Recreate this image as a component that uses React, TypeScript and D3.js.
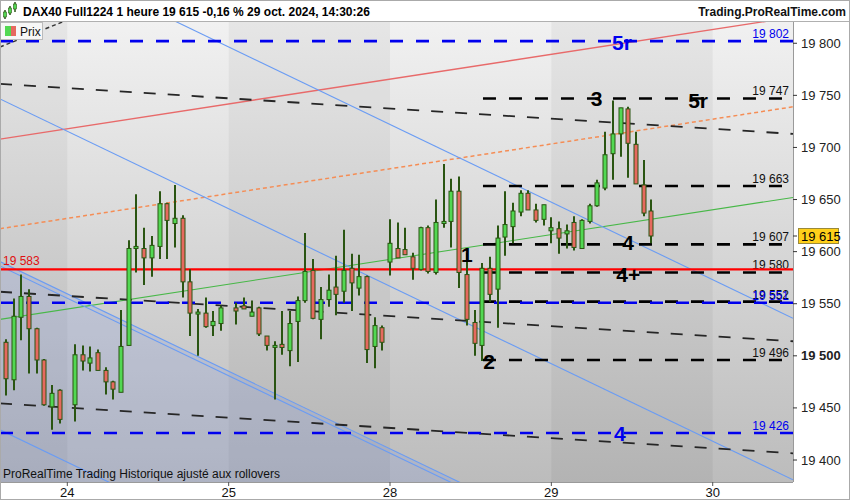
import { useEffect, useRef } from "react";
import * as d3 from "d3";

const WIDTH = 850;
const HEIGHT = 500;
const PLOT = { left: 0, right: 793, top: 22, bottom: 482 };
const FONT = "'Liberation Sans', Arial, sans-serif";

// hourly bars, one slot per hour, the first slot of each day label is at 21 * n
const FIRST_SLOT = -8;
const BARS_PER_DAY = 21;
const SLOT_DOMAIN = [-8.76, 94.45];
const PRICE_DOMAIN = [19378.9, 19820.4];
const dayLabels = ["24", "25", "28", "29", "30"];

// null = no bar in that slot
const opens = [
  19513, 19477, 19537, 19557, 19526, 19496, 19451, 19467,
  null, 19453, 19501, 19493, 19503, 19486, 19475, 19465, 19510, 19603, 19603, 19594, 19605, 19646, 19627, 19632, 19571, 19541, 19541, 19529, 19531,
  null, 19546, 19548, 19538, 19546, 19519, 19509, 19511, 19505, 19533, 19553, 19582, 19535, 19554, 19566, 19562, 19584, 19565, 19576, 19509, 19527,
  19590, 19603, 19602, 19595, 19583, 19623, 19580, 19627, 19629, 19658, 19578, 19532, 19510, 19584, 19564, 19614, 19624, 19638, 19656, 19640, 19631,
  19620, 19622, 19617, 19628, 19603, 19629, 19644, 19661, 19694, 19713, 19737, 19703, 19664, 19639,
];
const highs = [
  19516, 19555, 19578, 19564, 19527, 19497, 19472, 19468,
  null, 19511, 19510, 19509, 19506, 19489, 19476, 19544, 19611, 19655, 19623, 19615, 19658, 19647, 19664, 19635, 19583, 19545, 19556, 19543, 19548,
  null, 19551, 19556, 19553, 19547, 19519, 19514, 19543, 19543, 19557, 19618, 19593, 19566, 19578, 19596, 19621, 19598, 19597, 19577, 19537, 19529,
  19631, 19628, 19623, 19599, 19624, 19625, 19650, 19684, 19670, 19672, 19599, 19544, 19589, 19595, 19625, 19658, 19647, 19659, 19659, 19646, 19645,
  19633, 19629, 19626, 19634, 19631, 19646, 19669, 19715, 19745, 19738, 19739, 19715, 19688, 19650,
];
const lows = [
  19462, 19467, 19515, 19483, 19483, 19452, 19429, 19435,
  null, 19437, 19486, 19485, 19486, 19463, 19458, 19465, 19510, 19580, 19568, 19576, 19593, 19593, 19604, 19556, 19519, 19500, 19527, 19519, 19524,
  null, 19530, 19545, 19538, 19519, 19505, 19458, 19501, 19490, 19494, 19551, 19535, 19516, 19547, 19539, 19551, 19543, 19558, 19493, 19488, 19505,
  19577, 19594, 19597, 19573, 19582, 19579, 19578, 19623, 19604, 19565, 19529, 19500, 19495, 19552, 19527, 19596, 19608, 19634, 19640, 19628, 19625,
  19608, 19598, 19603, 19601, 19603, 19627, 19643, 19659, 19669, 19691, 19671, 19665, 19634, 19608,
];
const closes = [
  19478, 19538, 19557, 19526, 19496, 19453, 19464, 19439,
  null, 19501, 19495, 19498, 19486, 19475, 19468, 19509, 19603, 19605, 19594, 19606, 19646, 19630, 19632, 19571, 19541, 19542, 19528, 19533, 19546,
  null, 19543, 19545, 19542, 19521, 19510, 19510, 19508, 19531, 19553, 19581, 19536, 19554, 19563, 19559, 19582, 19570, 19576, 19506, 19529, 19513,
  19608, 19594, 19597, 19584, 19623, 19581, 19628, 19629, 19658, 19580, 19535, 19512, 19584, 19559, 19613, 19626, 19639, 19656, 19640, 19630, 19645,
  19623, 19613, 19620, 19604, 19630, 19644, 19666, 19693, 19713, 19738, 19704, 19665, 19637, 19615,
];
const LAST_PRICE = 19615;

// trend lines: price at the left edge and at the right edge of the chart
const redTrend = [19708, 19825];
const orangeTrend = [19622, 19739];
const greenTrend = [19535, 19652];
const blueTrends = [
  [19902, 19536],
  [19746.5, 19381],
  [19590.5, 19225],
  [19586.2, 19221],
  [19429, 19063],
];
const blackTrends = [
  [19761, 19713],
  [19561.5, 19514],
  [19454.4, 19406.4],
];
const steepTrendSlots = [-8.76, -0.65];
const steepTrendPrices = [19796.4, 19820.4];

// horizontal levels
const supportLevel = 19583;
const blueLevels = [19802, 19551, 19426];
const blueLevelLabels = ["19 802", "19 551", "19 426"];
const BLACK_LEVEL_FROM = 54.1;
const blackLevels = [19747, 19663, 19607, 19580, 19552, 19496];
const blackLevelLabels = ["19 747", "19 663", "19 607", "19 580", "19 552", "19 496"];

// wave counts
const blueMarks = ["5r", "4"];
const blueMarkSlots = [72.2, 71.9];
const blueMarkPrices = [19793.6, 19418.2];
const blackMarks = ["3", "5r", "1", "4", "4+", "2"];
const blackMarkSlots = [68.9, 82.1, 52.0, 73.0, 73.0, 54.9];
const blackMarkPrices = [19739.8, 19737.8, 19590, 19601.6, 19570.8, 19487.4];

const priceTicks = [19400, 19450, 19500, 19550, 19600, 19650, 19700, 19750, 19800];
const fmt = (v: number) => `${Math.floor(v / 1000)} ${String(v % 1000).padStart(3, "0")}`;

export default function App() {
  const svgRef = useRef<SVGSVGElement | null>(null);

  useEffect(() => {
    if (!svgRef.current) return;
    const svg = d3.select(svgRef.current);
    svg.selectAll("*").remove();

    const x = d3.scaleLinear().domain(SLOT_DOMAIN).range([PLOT.left, PLOT.right]);
    const y = d3.scaleLinear().domain(PRICE_DOMAIN).range([PLOT.bottom, PLOT.top]);

    const defs = svg.append("defs");
    const grad = defs
      .append("linearGradient")
      .attr("id", "bg-grad")
      .attr("x1", 0)
      .attr("y1", 0)
      .attr("x2", 0)
      .attr("y2", 1);
    grad.append("stop").attr("offset", "0%").attr("stop-color", "#f1f1f1");
    grad.append("stop").attr("offset", "100%").attr("stop-color", "#bcbcbc");
    defs
      .append("clipPath")
      .attr("id", "plot-clip")
      .append("rect")
      .attr("x", PLOT.left)
      .attr("y", PLOT.top)
      .attr("width", PLOT.right - PLOT.left)
      .attr("height", PLOT.bottom - PLOT.top);

    svg.append("rect").attr("width", WIDTH).attr("height", HEIGHT).attr("fill", "#fff");

    const plot = svg.append("g").attr("clip-path", "url(#plot-clip)");
    plot
      .append("rect")
      .attr("x", PLOT.left)
      .attr("y", PLOT.top)
      .attr("width", PLOT.right - PLOT.left)
      .attr("height", PLOT.bottom - PLOT.top)
      .attr("fill", "url(#bg-grad)");

    // darker bands for every other day (23, 25, 29)
    const dayEdges = [SLOT_DOMAIN[0], ...dayLabels.map((_d, i) => i * BARS_PER_DAY), SLOT_DOMAIN[1]];
    for (let i = 0; i < dayEdges.length - 1; i += 2) {
      plot
        .append("rect")
        .attr("x", x(dayEdges[i]))
        .attr("y", PLOT.top)
        .attr("width", x(dayEdges[i + 1]) - x(dayEdges[i]))
        .attr("height", PLOT.bottom - PLOT.top)
        .attr("fill", "#000")
        .attr("opacity", 0.045);
    }

    const edgeLine = (prices: number[], slots: number[] = SLOT_DOMAIN) =>
      d3
        .line<number>()
        .x((_p, i) => x(slots[i]))
        .y((p) => y(p))(prices);

    // tinted area under the lower blue channel line
    const [c0, c1] = blueTrends[2];
    plot
      .append("path")
      .attr(
        "d",
        d3.area<number>()
          .x((_p, i) => x(SLOT_DOMAIN[i]))
          .y0(PLOT.bottom)
          .y1((p) => y(p))([c0, c1])
      )
      .attr("fill", "#7f95e0")
      .attr("opacity", 0.22);

    // trend lines
    plot.append("path").attr("d", edgeLine(redTrend)).attr("stroke", "#e86a6a").attr("stroke-width", 1.4).attr("fill", "none");
    plot
      .append("path")
      .attr("d", edgeLine(orangeTrend))
      .attr("stroke", "#f58d55")
      .attr("stroke-width", 1.5)
      .attr("stroke-dasharray", "4,3")
      .attr("fill", "none");
    plot.append("path").attr("d", edgeLine(greenTrend)).attr("stroke", "#48b848").attr("stroke-width", 1.1).attr("fill", "none");
    blueTrends.forEach((t) => {
      plot.append("path").attr("d", edgeLine(t)).attr("stroke", "#6a9cf4").attr("stroke-width", 1.1).attr("fill", "none");
    });
    blackTrends.forEach((t) => {
      plot
        .append("path")
        .attr("d", edgeLine(t))
        .attr("stroke", "#262626")
        .attr("stroke-width", 1.8)
        .attr("stroke-dasharray", "12,12")
        .attr("fill", "none");
    });
    plot
      .append("path")
      .attr("d", edgeLine(steepTrendPrices, steepTrendSlots))
      .attr("stroke", "#333")
      .attr("stroke-width", 1.4)
      .attr("stroke-dasharray", "4,3")
      .attr("fill", "none");

    // horizontal levels
    blackLevels.forEach((lv, i) => {
      plot
        .append("line")
        .attr("x1", x(BLACK_LEVEL_FROM))
        .attr("x2", PLOT.right)
        .attr("y1", y(lv))
        .attr("y2", y(lv))
        .attr("stroke", "#000")
        .attr("stroke-width", 2.6)
        .attr("stroke-dasharray", "13,13");
      plot
        .append("text")
        .attr("x", PLOT.right - 4)
        .attr("y", y(lv) - 3)
        .attr("text-anchor", "end")
        .style("font", `12px ${FONT}`)
        .attr("fill", "#111")
        .text(blackLevelLabels[i]);
    });
    blueLevels.forEach((lv, i) => {
      plot
        .append("line")
        .attr("x1", PLOT.left)
        .attr("x2", PLOT.right)
        .attr("y1", y(lv))
        .attr("y2", y(lv))
        .attr("stroke", "#0000ee")
        .attr("stroke-width", 2.6)
        .attr("stroke-dasharray", "13,13");
      plot
        .append("text")
        .attr("x", PLOT.right - 4)
        .attr("y", y(lv) - 3)
        .attr("text-anchor", "end")
        .style("font", `12px ${FONT}`)
        .attr("fill", "#0000ee")
        .text(blueLevelLabels[i]);
    });
    plot
      .append("line")
      .attr("x1", PLOT.left)
      .attr("x2", PLOT.right)
      .attr("y1", y(supportLevel))
      .attr("y2", y(supportLevel))
      .attr("stroke", "#ff0000")
      .attr("stroke-width", 2.2);
    plot
      .append("text")
      .attr("x", 3)
      .attr("y", y(supportLevel) - 4)
      .style("font", `12px ${FONT}`)
      .attr("fill", "#e01010")
      .text(fmt(supportLevel));

    // candles
    const bars = plot.append("g");
    opens.forEach((o, i) => {
      const h = highs[i];
      const l = lows[i];
      const c = closes[i];
      if (o == null || h == null || l == null || c == null) return;
      const cx = Math.round(x(FIRST_SLOT + i));
      bars
        .append("line")
        .attr("x1", cx)
        .attr("x2", cx)
        .attr("y1", y(h))
        .attr("y2", y(l))
        .attr("stroke", "#2a5512")
        .attr("stroke-width", 2);
      const top = y(Math.max(o, c));
      const bh = Math.max(2, Math.abs(y(o) - y(c)));
      bars
        .append("rect")
        .attr("x", cx - 2)
        .attr("y", top)
        .attr("width", 4)
        .attr("height", bh)
        .attr("fill", c >= o ? "#52d852" : "#e6695f")
        .attr("stroke", "#2a5512")
        .attr("stroke-width", 1);
    });

    // wave labels
    blueMarks.forEach((m, i) => {
      plot
        .append("text")
        .attr("x", x(blueMarkSlots[i]))
        .attr("y", y(blueMarkPrices[i]))
        .attr("text-anchor", "middle")
        .style("font", `bold 21px ${FONT}`)
        .attr("fill", "#0000ee")
        .text(m);
    });
    blackMarks.forEach((m, i) => {
      plot
        .append("text")
        .attr("x", x(blackMarkSlots[i]))
        .attr("y", y(blackMarkPrices[i]))
        .attr("text-anchor", "middle")
        .style("font", `bold 21px ${FONT}`)
        .attr("fill", "#000")
        .text(m);
    });

    plot
      .append("text")
      .attr("x", 3)
      .attr("y", PLOT.bottom - 4)
      .style("font", `12px ${FONT}`)
      .attr("fill", "#111")
      .text("ProRealTime Trading  Historique ajusté aux rollovers");

    // legend box
    const legend = svg.append("g");
    legend.append("rect").attr("x", 0.5).attr("y", 22.5).attr("width", 42).attr("height", 17).attr("fill", "#f7f7f7").attr("stroke", "#bbb");
    legend.append("rect").attr("x", 5).attr("y", 26).attr("width", 6).attr("height", 10).attr("fill", "#52d852");
    legend.append("rect").attr("x", 11).attr("y", 26).attr("width", 5).attr("height", 10).attr("fill", "#e6695f");
    legend.append("text").attr("x", 20).attr("y", 35.5).style("font", `12px ${FONT}`).attr("fill", "#111").text("Prix");

    // frame
    svg.append("line").attr("x1", PLOT.right + 0.5).attr("x2", PLOT.right + 0.5).attr("y1", PLOT.top).attr("y2", PLOT.bottom).attr("stroke", "#9a9a9a");
    svg.append("line").attr("x1", 0).attr("x2", WIDTH).attr("y1", PLOT.top - 0.5).attr("y2", PLOT.top - 0.5).attr("stroke", "#b0b0b0");
    svg.append("line").attr("x1", 0).attr("x2", PLOT.right).attr("y1", PLOT.bottom + 0.5).attr("y2", PLOT.bottom + 0.5).attr("stroke", "#9a9a9a");

    // right price axis
    const axis = svg.append("g");
    priceTicks.forEach((t) => {
      axis.append("line").attr("x1", PLOT.right).attr("x2", PLOT.right + 4).attr("y1", y(t)).attr("y2", y(t)).attr("stroke", "#333");
      axis
        .append("text")
        .attr("x", PLOT.right + 8)
        .attr("y", y(t) + 4.5)
        .style("font", `${t === 19500 ? "bold " : ""}13px ${FONT}`)
        .attr("fill", "#222")
        .text(fmt(t));
    });
    const ly = y(LAST_PRICE);
    axis.append("line").attr("x1", PLOT.right).attr("x2", PLOT.right + 4).attr("y1", ly).attr("y2", ly).attr("stroke", "#333");
    axis.append("rect").attr("x", 798.5).attr("y", ly - 7.5).attr("width", 40).attr("height", 15).attr("fill", "#ffcf1a").attr("stroke", "#9a8a3a");
    axis.append("text").attr("x", 801).attr("y", ly + 4.5).style("font", `13px ${FONT}`).attr("fill", "#000").text(fmt(LAST_PRICE));

    // day axis
    dayLabels.forEach((d, i) => {
      const dx = x(i * BARS_PER_DAY);
      svg.append("line").attr("x1", dx).attr("x2", dx).attr("y1", PLOT.bottom).attr("y2", PLOT.bottom + 4).attr("stroke", "#555");
      svg
        .append("text")
        .attr("x", dx)
        .attr("y", PLOT.bottom + 14.5)
        .attr("text-anchor", "middle")
        .style("font", `13px ${FONT}`)
        .attr("fill", "#111")
        .text(d);
    });

    // header
    const head = svg.append("g");
    const icon = [
      { cx: 5, top: 10, bottom: 19, b0: 12, b1: 17, up: false },
      { cx: 10, top: 6, bottom: 15, b0: 8, b1: 13, up: true },
      { cx: 15, top: 2, bottom: 12, b0: 4, b1: 9, up: true },
    ];
    icon.forEach((ic) => {
      head.append("line").attr("x1", ic.cx).attr("x2", ic.cx).attr("y1", ic.top).attr("y2", ic.bottom).attr("stroke", "#2a5512").attr("stroke-width", 1.5);
      head.append("rect").attr("x", ic.cx - 1.5).attr("y", ic.b0).attr("width", 3).attr("height", ic.b1 - ic.b0).attr("fill", "#52d852").attr("stroke", "#2a5512").attr("stroke-width", 0.6);
    });
    head
      .append("text")
      .attr("x", 23)
      .attr("y", 15.5)
      .style("font", `bold 12px ${FONT}`)
      .attr("fill", "#000")
      .text("DAX40 Full1224 1 heure 19 615 -0,16 % 29 oct. 2024, 14:30:26");
    head
      .append("text")
      .attr("x", 846)
      .attr("y", 15.5)
      .attr("text-anchor", "end")
      .style("font", `bold 12px ${FONT}`)
      .attr("fill", "#111")
      .text("Trading.ProRealTime.com");

    svg.append("rect").attr("x", 0.5).attr("y", 0.5).attr("width", WIDTH - 1).attr("height", HEIGHT - 1).attr("fill", "none").attr("stroke", "#aaa");
  }, []);

  return (
    <svg
      ref={svgRef}
      width={WIDTH}
      height={HEIGHT}
      style={{ position: "absolute", left: 0, top: 0, display: "block" }}
    />
  );
}
